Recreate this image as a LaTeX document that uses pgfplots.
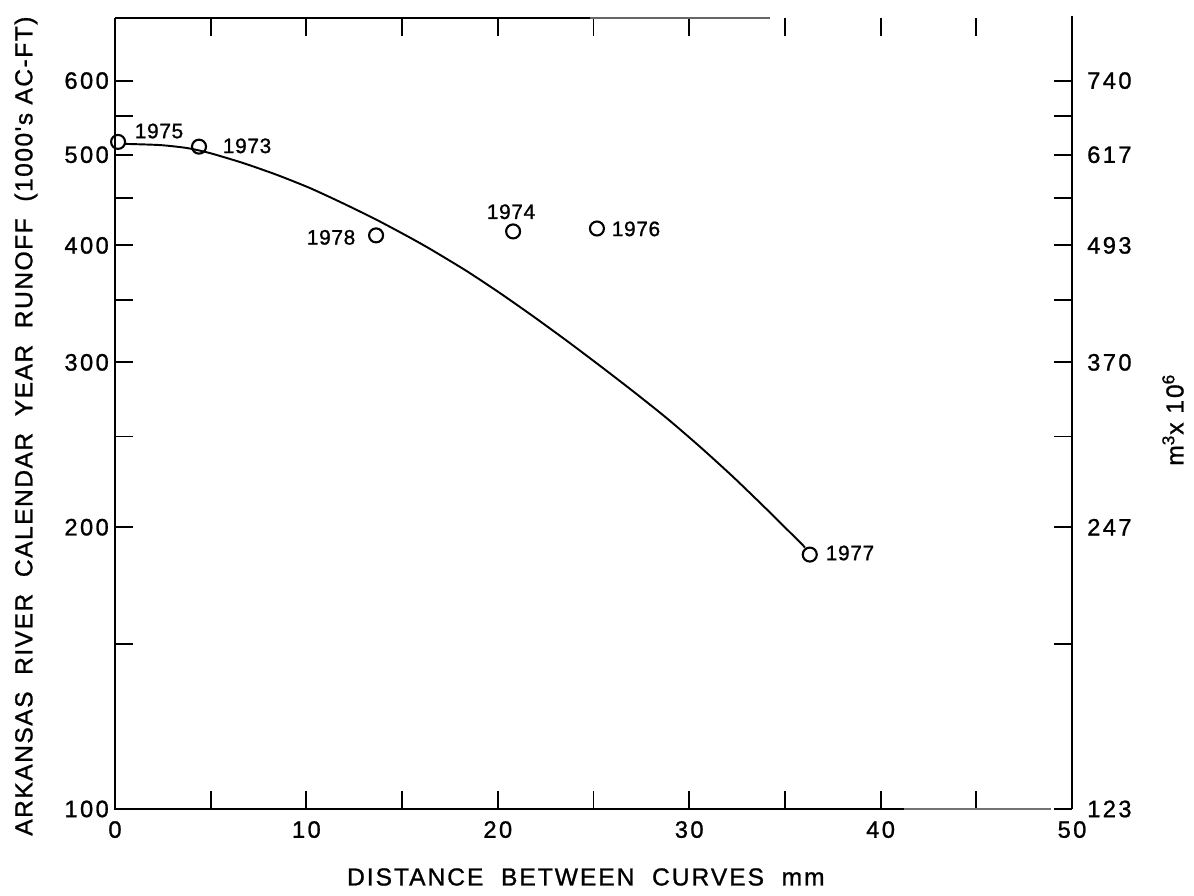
\documentclass[border=0pt]{standalone}
\usepackage{pgfplots}
\pgfplotsset{compat=1.18}
\usepackage{fontspec}
\setmainfont{Liberation Sans}
\newfontfamily\labfont[LetterSpace=8, FakeBold=1]{Liberation Sans}
\newfontfamily\ylabfont[LetterSpace=6, FakeBold=1]{Liberation Sans}
\newfontfamily\tickfont[LetterSpace=10, FakeBold=1]{Liberation Sans}
\newfontfamily\datafont[LetterSpace=3, FakeBold=1]{Liberation Sans}

\pgfplotstableread{
x y
0.52 513.5
2.35 512.0
3.76 508.3
4.96 502.0
6.69 489.9
8.46 475.8
10.19 460.6
11.91 443.7
13.69 425.8
15.41 407.8
16.61 395.0
18.39 375.4
20.11 355.8
21.84 336.1
23.62 316.2
25.34 297.5
27.06 279.5
28.84 261.4
30.56 243.8
32.29 226.4
34.06 208.9
35.79 192.7
36.05 190.3
}\curvedata

\pgfplotstableread{
x y
0.16 516
4.39 510
13.64 410
20.8 414
25.18 417
36.3 187
}\pointdata

\begin{document}
\begin{tikzpicture}
\begin{axis}[
  name=main,
  scale only axis,
  width=191.4mm, height=158.2mm,
  xmin=0, xmax=50, ymin=100, ymax=700,
  ymode=log,
  xtick={0,10,...,50},
  minor xtick={5,15,...,45},
  ytick={100,200,300,400,500,600},
  yticklabels={100,200,300,400,500,600},
  minor ytick={150,250,350,450,550},
  tick align=inside,
  major tick length=3.6mm, minor tick length=3.6mm,
  tick style={black, line width=1.1pt},
  separate axis lines,
  axis line style={draw=none},
  clip=false,
  /pgf/number format/assume math mode=true,
  ticklabel style={font=\tickfont\fontsize{13.5}{15}\selectfont},
  xticklabel style={yshift=-1.2mm},
  xlabel={\labfont DISTANCE\ \ BETWEEN\ \ CURVES\ \ mm},
  xlabel style={at={(axis description cs:0.492,-0.086)}, anchor=center, font=\fontsize{14}{16}\selectfont},
  ylabel={\ylabfont ARKANSAS\ \ RIVER\ \ CALENDAR\ \ YEAR\ \ RUNOFF\ \ (1000's AC-FT)},
  ylabel style={at={(axis description cs:-0.093,0.484)}, anchor=center, font=\fontsize{14}{16}\selectfont},
]
\draw[line width=1.6pt] (rel axis cs:0,1) -- (rel axis cs:0,0) -- (rel axis cs:0.824,0);
\draw[line width=1pt, black!55] (rel axis cs:0.824,0) -- (rel axis cs:0.978,0);
\draw[line width=1.6pt] (rel axis cs:1,1.003) -- (rel axis cs:1,0);
\draw[line width=1.3pt] (rel axis cs:0,1) -- (rel axis cs:0.496,1);
\draw[line width=0.8pt, black!60] (rel axis cs:0.496,1) -- (rel axis cs:0.684,1);

\addplot[black, line width=1.1pt, smooth, tension=0.4, no markers] table {\curvedata};
\addplot[only marks, mark=o, mark size=1.4mm, mark options={line width=1.2pt, black}] table {\pointdata};

\begin{scope}[font=\datafont\fontsize{11.9}{13}\selectfont]
\node at (axis cs:2.30,530) {1975};
\node at (axis cs:6.90,511) {1973};
\node at (axis cs:11.29,408) {1978};
\node at (axis cs:20.69,434.5) {1974};
\node at (axis cs:27.22,416.6) {1976};
\node at (axis cs:38.40,187.7) {1977};
\end{scope}
\end{axis}

\begin{axis}[
  scale only axis,
  width=191.4mm, height=158.2mm,
  xmin=0, xmax=50, ymin=100, ymax=700,
  ymode=log,
  axis x line=none,
  axis y line*=right,
  axis line style={draw=none},
  ytick={100,200,300,400,500,600},
  yticklabels={123,247,370,493,617,740},
  minor ytick={},
  ytick style={draw=none},
  /pgf/number format/assume math mode=true,
  yticklabel style={xshift=1.8mm, font=\tickfont\fontsize{13.5}{15}\selectfont},
  ylabel={\labfont m\textsuperscript{3}x 10\textsuperscript{6}},
  ylabel style={at={(axis description cs:1.1055,0.492)}, anchor=center, font=\fontsize{14}{16}\selectfont},
]
\end{axis}

\pgfresetboundingbox
\path[use as bounding box] ([xshift=-23mm, yshift=-17.2mm]main.south west) rectangle ([xshift=24.4mm, yshift=3.6mm]main.north east);
\end{tikzpicture}
\end{document}
